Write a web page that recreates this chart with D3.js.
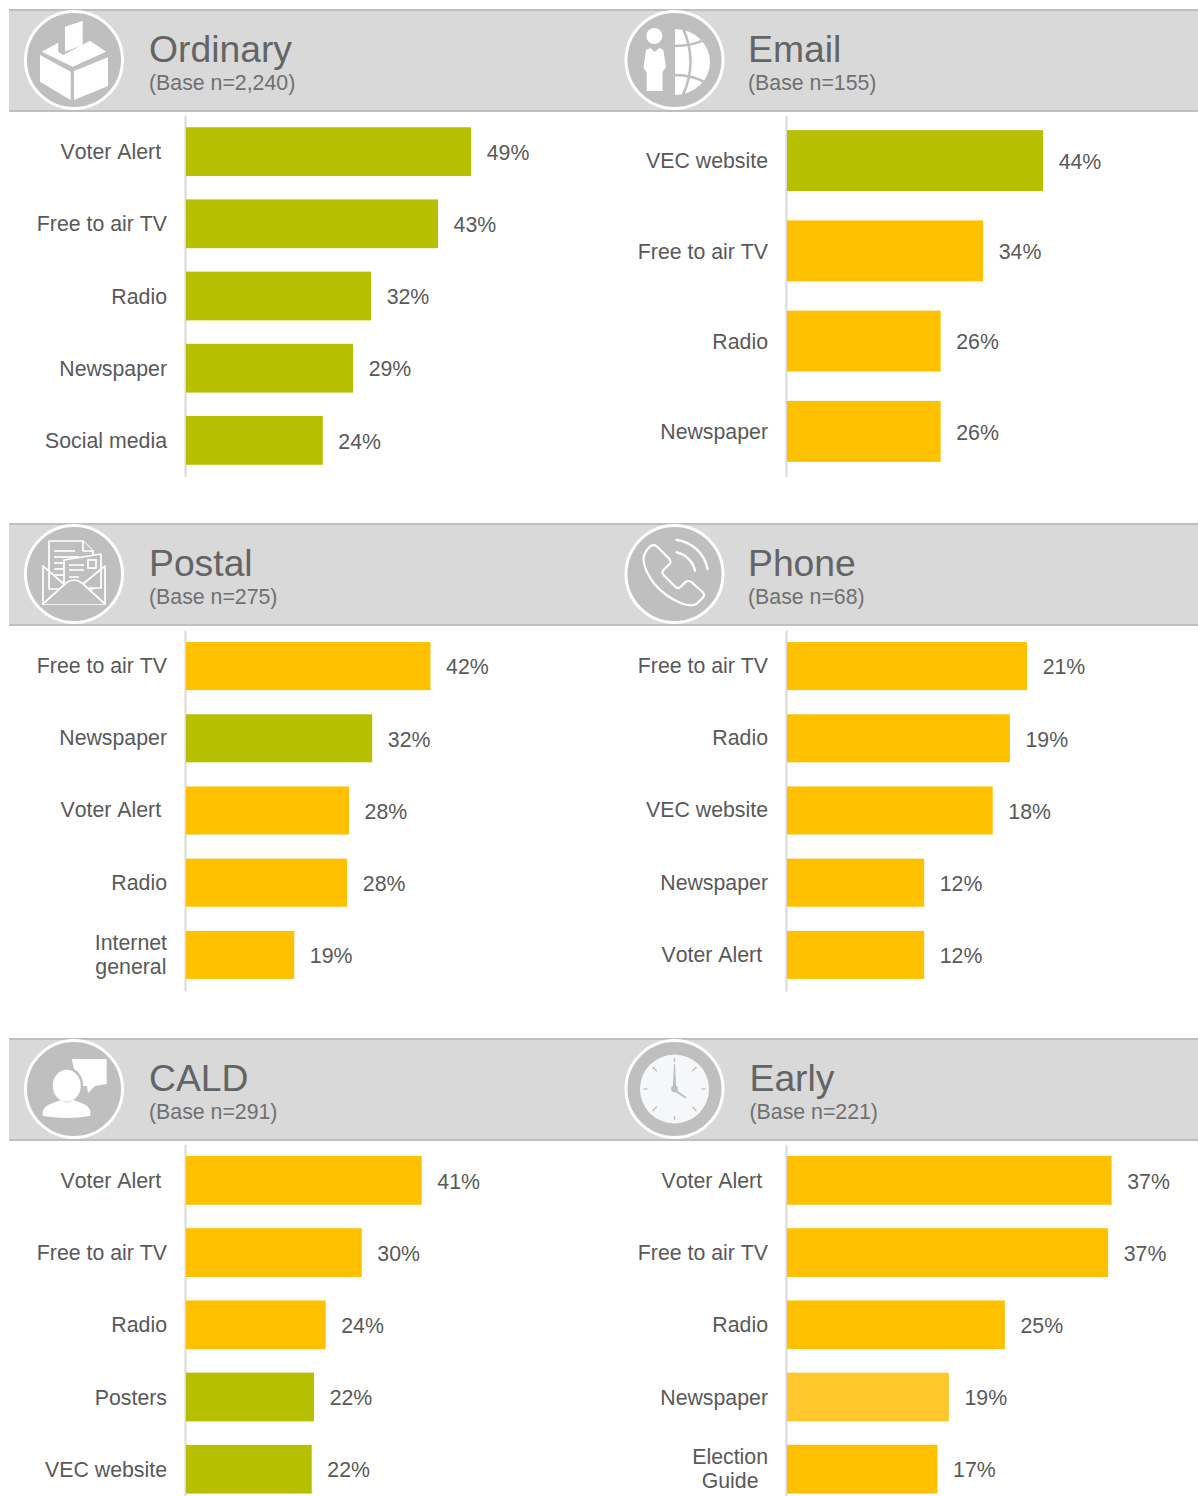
<!DOCTYPE html>
<html>
<head>
<meta charset="utf-8">
<script src="https://cdn.jsdelivr.net/npm/d3@7/dist/d3.min.js"></script>
<style>
html,body{margin:0;padding:0;background:#fff;overflow:hidden}
svg{display:block}
text{font-family:"Liberation Sans",Arial,sans-serif}
</style>
</head>
<body>
<div id="chart"></div>
<script>
const GREEN="#b7c000", AMBER="#ffc000", PALE="#ffc72c";

const ordinaryCategories=["Voter Alert\u00a0","Free to air TV","Radio","Newspaper","Social media"];
const ordinaryValues=[49,43.3,31.8,28.7,23.5];
const ordinaryLabels=["49%","43%","32%","29%","24%"];
const ordinaryColors=[GREEN,GREEN,GREEN,GREEN,GREEN];

const emailCategories=["VEC website","Free to air TV","Radio","Newspaper"];
const emailValues=[44,33.7,26.4,26.4];
const emailLabels=["44%","34%","26%","26%"];
const emailColors=[GREEN,AMBER,AMBER,AMBER];

const postalCategories=["Free to air TV","Newspaper","Voter Alert\u00a0","Radio","Internet\ngeneral"];
const postalValues=[42,32,28,27.7,18.6];
const postalLabels=["42%","32%","28%","28%","19%"];
const postalColors=[AMBER,GREEN,AMBER,AMBER,AMBER];

const phoneCategories=["Free to air TV","Radio","VEC website","Newspaper","Voter Alert\u00a0"];
const phoneValues=[21,19.5,18,12,12];
const phoneLabels=["21%","19%","18%","12%","12%"];
const phoneColors=[AMBER,AMBER,AMBER,AMBER,AMBER];

const caldCategories=["Voter Alert\u00a0","Free to air TV","Radio","Posters","VEC website"];
const caldValues=[40.5,30.2,24,22,21.6];
const caldLabels=["41%","30%","24%","22%","22%"];
const caldColors=[AMBER,AMBER,AMBER,GREEN,GREEN];

const earlyCategories=["Voter Alert\u00a0","Free to air TV","Radio","Newspaper","Election\nGuide"];
const earlyValues=[37.1,36.7,24.9,18.5,17.2];
const earlyLabels=["37%","37%","25%","19%","17%"];
const earlyColors=[AMBER,AMBER,AMBER,PALE,AMBER];

const W=1198,H=1496;
const svg=d3.select("#chart").append("svg").attr("width",W).attr("height",H);

const ICON="#bfbfbf";
const icons={
 ballot(g){
  const w=d=>g.append("path").attr("d",d).attr("fill","#fff");
  w("M-34,-5L-3.3,11.7V40L-34,21.7Z");
  w("M0,11L34,-2.7V26L0,40Z");
  w("M-32.3,-8.3L-15.7,-17.3V-8.3L-10.7,-5L16,-19.3L32,-8.3L-1.3,6.7Z");
  w("M-9,-33.3L8.7,-39V-15L-9,-8.3Z");
 },
 globe(g){
  g.append("circle").attr("cx",-20.2).attr("cy",-24).attr("r",8).attr("fill","#fff");
  g.append("path").attr("fill","#fff").attr("d","M-28.5,-10L-24,-12L-20,-8L-15,-12L-11.2,-10L-8.5,7L-12,12V31H-27.8V12L-31,8Z");
  g.append("path").attr("fill","#fff").attr("d","M0.5,-31A35,33 0 0 1 0.5,35Z");
  const s=d=>g.append("path").attr("d",d).attr("fill","none").attr("stroke",ICON).attr("stroke-width",2.6);
  s("M8,-33Q24,2 8,36");
  s("M0,-14Q20,-14 33,-22");
  s("M0,15Q20,15 33,24");
 },
 mail(g){
  const st=(d,f)=>g.append("path").attr("d",d).attr("fill",f||ICON).attr("stroke","#fff").attr("stroke-width",1.7).attr("stroke-linejoin","round");
  st("M-25,-33H9L19,-23V15H-25Z");
  st("M9,-33V-23H19");
  for(const [y,e] of [[-23,1],[-17,5],[-11,-10],[-5,-10],[1,-10]]) g.append("line").attr("x1",-20).attr("x2",e).attr("y1",y).attr("y2",y).attr("stroke","#fff").attr("stroke-width",1.7);
  st("M-10,-14L27,-20V14H-10Z");
  g.append("rect").attr("x",14).attr("y",-14).attr("width",8).attr("height",8).attr("fill","none").attr("stroke","#fff").attr("stroke-width",1.7);
  for(const [y,e] of [[-9,10],[-4,10],[3,5]]) g.append("line").attr("x1",-5).attr("x2",e).attr("y1",y).attr("y2",y).attr("stroke","#fff").attr("stroke-width",1.6);
  st("M-31,-8L-31,30H31V-8L-1,18Z","none");
  g.append("path").attr("d","M-31,30L-8,9Q0,3 8,9L31,30").attr("fill",ICON).attr("stroke","#fff").attr("stroke-width",1.7);
 },
 phone(g){
  g.append("path").attr("fill","none").attr("stroke","#fff").attr("stroke-width",2.2).attr("stroke-linejoin","round")
   .attr("d","M-25,-27Q-21,-31 -17,-27L-5,-15Q-3,-12 -5,-10L-11,-4Q-13,-2 -11,1L1,13Q4,15 6,13L11,8Q14,6 17,8L28,18Q31,21 28,24L22,30Q16,33 6,29Q-10,22 -20,10Q-30,-3 -31,-14Q-31,-21 -25,-27Z");
  const a=d=>g.append("path").attr("d",d).attr("fill","none").attr("stroke","#fff").attr("stroke-width",2.4).attr("stroke-linecap","round");
  a("M2.2,-34A36,36 0 0 1 33,-5");
  a("M2.2,-21.7A24,24 0 0 1 20.5,-3.3");
 },
 person(g){
  g.append("path").attr("fill","#fff").attr("d","M-2.3,-30H32.7V-5L21,-3L14,4L13,-3L4,-3Z");
  g.append("ellipse").attr("cx",-7.3).attr("cy",-3.5).attr("rx",16.5).attr("ry",18.5).attr("fill",ICON);
  g.append("ellipse").attr("cx",-7.3).attr("cy",-3.3).attr("rx",14).attr("ry",16).attr("fill","#fff");
  g.append("path").attr("fill","#fff").attr("d","M-31,27Q-33,20 -26,16Q-19,13 -13,11Q-7,16 -1,11Q6,13 12,16Q18,20 16,27Q-7,31 -31,27Z");
 },
 clock(g){
  g.append("circle").attr("r",34.5).attr("fill","#f6f7f9");
  d3.range(8).forEach(i=>{
   const a=i*Math.PI/4;
   g.append("line").attr("x1",Math.sin(a)*(i%2?25:27)).attr("y1",-Math.cos(a)*(i%2?25:27))
    .attr("x2",Math.sin(a)*31).attr("y2",-Math.cos(a)*31)
    .attr("stroke",ICON).attr("stroke-width",1.4);
  });
  g.append("path").attr("d","M-1.8,0L-0.5,-25H0.5L1.8,0Z").attr("fill",ICON);
  g.append("path").attr("d","M-1.4,-1.4L12,8.2L11,9.4L-1.4,1.4Z").attr("fill",ICON);
  g.append("circle").attr("r",3.4).attr("fill",ICON);
 }
};

const rows=[0,514,1029];
const plotTop=[115.5,630,1144.3];
const cols=[
 {iconX:74,titleX:149,axisX:185},
 {iconX:674.5,titleX:748,axisX:786}
];
const panels=[
 {r:0,c:0,title:"Ordinary",base:"(Base n=2,240)",icon:"ballot",cats:ordinaryCategories,vals:ordinaryValues,labs:ordinaryLabels,cols:ordinaryColors,pxMax:582},
 {r:0,c:1,title:"Email",base:"(Base n=155)",icon:"globe",cats:emailCategories,vals:emailValues,labs:emailLabels,cols:emailColors,pxMax:582},
 {r:1,c:0,title:"Postal",base:"(Base n=275)",icon:"mail",cats:postalCategories,vals:postalValues,labs:postalLabels,cols:postalColors,pxMax:582},
 {r:1,c:1,title:"Phone",base:"(Base n=68)",icon:"phone",cats:phoneCategories,vals:phoneValues,labs:phoneLabels,cols:phoneColors,pxMax:1143},
 {r:2,c:0,title:"CALD",base:"(Base n=291)",icon:"person",cats:caldCategories,vals:caldValues,labs:caldLabels,cols:caldColors,pxMax:582},
 {r:2,c:1,title:"Early",base:"(Base n=221)",icon:"clock",cats:earlyCategories,vals:earlyValues,labs:earlyLabels,cols:earlyColors,pxMax:875,titleDx:1.5}
];

rows.forEach(dy=>{
 svg.append("rect").attr("x",9).attr("y",dy+10).attr("width",1189).attr("height",101).attr("fill","#d9d9d9");
 [dy+10,dy+111].forEach(y=>svg.append("rect").attr("x",9).attr("y",y-1).attr("width",1189).attr("height",2).attr("fill","#bfbfbf"));
});

panels.forEach(p=>{
 const dy=rows[p.r], col=cols[p.c], top=plotTop[p.r];
 const g=svg.append("g");
 const ic=g.append("g").attr("transform",`translate(${col.iconX},${dy+60})`);
 ic.append("circle").attr("r",48.5).attr("fill",ICON).attr("stroke","#fff").attr("stroke-width",3);
 icons[p.icon](ic);
 const tx=col.titleX+(p.titleDx||0);
 g.append("text").attr("x",tx).attr("y",dy+(p.r===2?61.5:62)).attr("font-size",37.3).attr("fill","#636466").text(p.title);
 g.append("text").attr("x",tx).attr("y",dy+90).attr("font-size",21.3).attr("fill","#6f7072").text(p.base);

 const padIn=p.r===1?0.335:0.325;
 const y=d3.scaleBand().domain(p.cats).range([top,top+361]).paddingInner(padIn).paddingOuter(padIn/2);
 const x=d3.scaleLinear().domain([0,100]).range([col.axisX+1,col.axisX+1+p.pxMax]);

 const axis=g.append("g").attr("transform",`translate(${col.axisX},0)`)
  .call(d3.axisLeft(y).tickSize(0).tickPadding(18));
 axis.select(".domain").attr("stroke","#d9d9d9").attr("stroke-width",2);
 axis.selectAll("text").attr("font-size",21.3).attr("fill","#595959")
  .attr("font-family",'"Liberation Sans",Arial,sans-serif')
  .style("font-kerning","none")
  .attr("y",p.r===1?0:0.8)
  .each(function(d){
    const lines=d.split("\n");
    if(lines.length<2) return;
    const t=d3.select(this).text(lines[0]);
    let wMax=this.getComputedTextLength();
    const probe=t.text(lines[1]).node().getComputedTextLength();
    wMax=Math.max(wMax,probe);
    t.text(null).attr("text-anchor","middle").attr("dy",null);
    lines.forEach((l,i)=>t.append("tspan").attr("x",-18-wMax/2).attr("y",(i?12:-12)+7).text(l));
  });

 g.selectAll("rect.bar").data(p.cats).join("rect").attr("class","bar")
  .attr("x",x(0)).attr("y",d=>y(d)).attr("height",y.bandwidth())
  .attr("width",(d,i)=>x(p.vals[i])-x(0)).attr("fill",(d,i)=>p.cols[i]);
 g.selectAll("text.val").data(p.cats).join("text").attr("class","val")
  .attr("x",(d,i)=>x(p.vals[i])+15.6).attr("y",d=>y(d)+y.bandwidth()/2+8.2)
  .attr("font-size",21.3).attr("fill","#595959").text((d,i)=>p.labs[i]);
});
</script>
</body>
</html>
